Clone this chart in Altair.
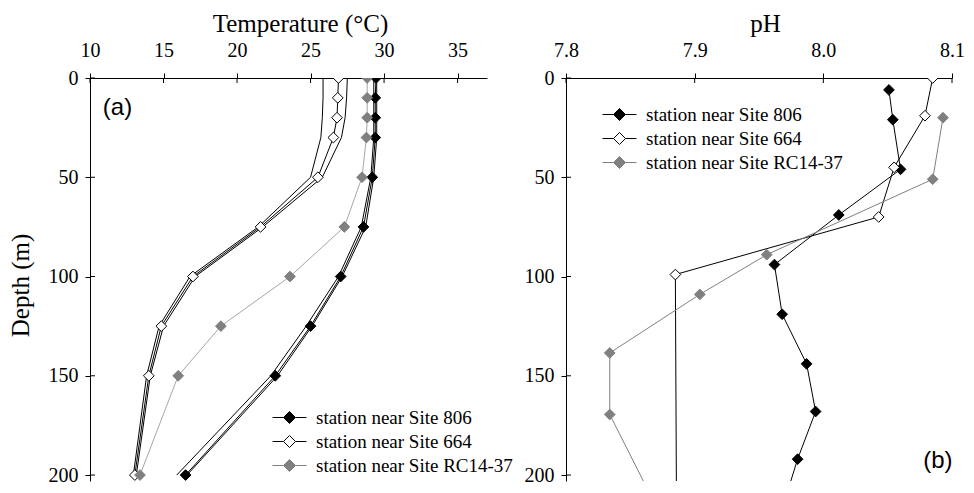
import altair as alt
import pandas as pd

SERIES = ["station near Site 806", "station near Site 664", "station near Site RC14-37"]

# ---------------- Temperature panel (a) ----------------
t_depth = [0, 10, 20, 30, 50, 75, 100, 125, 150, 200]
t_806 = [29.45, 29.4, 29.4, 29.4, 29.2, 28.6, 27.05, 25.0, 22.6, 16.5]
t_664 = [26.9, 26.85, 26.8, 26.55, 25.5, 21.6, 17.0, 14.85, 14.0, 13.05]
t_rc = [28.85, 28.85, 28.85, 28.8, 28.5, 27.3, 23.6, 18.9, 16.0, 13.4]
# unlabelled thin profiles next to the station profiles
t_806_a = [29.3, 29.3, 29.3, 29.3, 29.1, 28.45, 26.9, 24.7, 22.3, 15.9]
t_806_b = [29.5, 29.5, 29.5, 29.5, 29.3, 28.75, 27.15, 25.1, 22.75, 16.6]
t_664_a = [25.85, 25.85, 25.8, 25.7, 25.0, 21.45, 16.8, 14.7, 13.85, 12.95]
t_664_b = [27.5, 27.45, 27.35, 27.1, 25.8, 21.75, 17.15, 15.0, 14.1, 13.15]

# ---------------- pH panel (b) ----------------
ph_806_depth = [6, 21, 46, 69, 94, 119, 144, 168, 192, 217]
ph_806 = [8.051, 8.054, 8.060, 8.012, 7.962, 7.968, 7.987, 7.994, 7.980, 7.968]
ph_664_depth = [0, 19, 45, 70, 99, 300]
ph_664 = [8.085, 8.079, 8.055, 8.043, 7.885, 7.8865]
ph_rc_depth = [20, 51, 89, 109, 138.5, 169.5, 240]
ph_rc = [8.093, 8.085, 7.956, 7.904, 7.834, 7.834, 7.889]

t_ticks = [10, 15, 20, 25, 30, 35]
ph_ticks = [7.8, 7.9, 8.0, 8.1]
depth_ticks = [0, 50, 100, 150, 200]

SERIF = "Liberation Serif"
W, H = 862, 403
T_RANGE = [0, 397]
PH_RANGE = [476, 862]
YS = alt.Scale(domain=[0, 203], range=[0, H], nice=False, zero=False)

LEG_PATH = "M-2.83,0L-1,0M1,0L2.83,0M0,-1L1,0L0,1L-1,0Z"


def frame(pairs):
    rows = []
    for lid, grp, site, depths, vals, pts in pairs:
        for i, (d, v) in enumerate(zip(depths, vals)):
            rows.append({"line": lid, "grp": grp, "site": site, "depth": d,
                         "val": v, "ord": i, "pt": pts})
    return pd.DataFrame(rows)


t_df = frame([
    ("806a", "thin", SERIES[0], t_depth, t_806_a, False),
    ("806b", "thin", SERIES[0], t_depth, t_806_b, False),
    ("664a", "thin", SERIES[1], t_depth, t_664_a, False),
    ("664b", "thin", SERIES[1], t_depth, t_664_b, False),
    ("806", "black", SERIES[0], t_depth, t_806, True),
    ("664", "black", SERIES[1], t_depth, t_664, True),
    ("rc", "gray", SERIES[2], t_depth, t_rc, True),
])
ph_df = frame([
    ("806", "black", SERIES[0], ph_806_depth, ph_806, True),
    ("664", "black", SERIES[1], ph_664_depth, ph_664, True),
    ("rc", "gray", SERIES[2], ph_rc_depth, ph_rc, True),
])


def panel(df, xdom, xrange, xticks, xtitle, xfmt, title_x, ytitle,
          y_offset, gray_line, leg_x, leg_y, label_text, label_x, label_y):
    xs = alt.Scale(domain=xdom, range=xrange, nice=False, zero=False)
    xax = alt.Axis(orient="top", values=xticks, format=xfmt, title=xtitle,
                   grid=False, tickSize=5, labelPadding=13,
                   titleX=title_x, titleY=-47, titleBaseline="alphabetic",
                   titleAlign="center", titleAngle=0,
                   labelFont=SERIF, labelFontSize=20, titleFont=SERIF,
                   titleFontSize=25, titleFontWeight="normal",
                   labelColor="black", titleColor="black", domainColor="black",
                   tickColor="black", labelFlush=False, labelOverlap=False)
    yargs = dict(orient="left", values=depth_ticks, grid=False, tickSize=5,
                 labelPadding=7, labelFont=SERIF, labelFontSize=20,
                 labelColor="black", domainColor="black", tickColor="black",
                 offset=y_offset, labelOverlap=False)
    if ytitle is None:
        yax = alt.Axis(title=None, **yargs)
    else:
        yax = alt.Axis(title=ytitle, titleFont=SERIF, titleFontSize=25,
                       titleFontWeight="normal", titleColor="black",
                       titleAngle=270, titleBaseline="alphabetic",
                       titleAlign="center", titleX=-61.5, titleY=207,
                       **yargs)

    base = alt.Chart(df)
    lines = base.mark_line(strokeWidth=1, clip=True).encode(
        x=alt.X("val:Q", scale=xs, axis=xax),
        y=alt.Y("depth:Q", scale=YS, axis=yax),
        color=alt.Color("grp:N", scale=alt.Scale(
            domain=["thin", "black", "gray"],
            range=["black", "black", gray_line]), legend=None),
        detail="line:N",
        order="ord:Q",
    )
    leg = alt.Legend(title=None, orient="none", legendX=leg_x, legendY=leg_y,
                     symbolType=LEG_PATH, symbolSize=144, symbolStrokeWidth=1,
                     rowPadding=4, labelOffset=17, padding=0, labelLimit=400,
                     symbolOpacity=1, labelFont=SERIF, labelFontSize=19,
                     labelColor="black")
    pts = base.transform_filter("datum.pt").mark_point(
        shape="diamond", filled=True, size=115, opacity=1, strokeWidth=1,
        clip=True).encode(
        x=alt.X("val:Q", scale=xs),
        y=alt.Y("depth:Q", scale=YS),
        fill=alt.Fill("site:N", scale=alt.Scale(
            domain=SERIES, range=["black", "white", "#808080"]), legend=leg),
        stroke=alt.Stroke("site:N", scale=alt.Scale(
            domain=SERIES, range=["black", "black", "#808080"]), legend=leg),
    )
    # inward halves of the crossing tick marks
    xt = alt.Chart(pd.DataFrame({"t": xticks})).mark_rule(
        color="black", strokeWidth=1).encode(
        x=alt.X("t:Q", scale=xs), y=alt.value(0), y2=alt.value(5))
    yt = alt.Chart(pd.DataFrame({"d": depth_ticks})).mark_rule(
        color="black", strokeWidth=1).encode(
        y=alt.Y("d:Q", scale=YS), x=alt.value(-y_offset),
        x2=alt.value(-y_offset + 5))
    lab = alt.Chart(pd.DataFrame({"s": [label_text], "x": [label_x],
                                  "y": [label_y]})).mark_text(
        font="Liberation Sans", fontSize=24, color="black").encode(
        x=alt.X("x:Q", scale=xs), y=alt.Y("y:Q", scale=YS), text="s:N")
    return alt.layer(lines, pts, xt, yt, lab)


left = panel(t_df, [10, 37], T_RANGE, t_ticks, "Temperature (°C)", "d", 210,
             "Depth (m)", 0, "#a6a6a6", 190, 330, "(a)", 11.87, 15.2)
right = panel(ph_df, [7.8, 8.1], PH_RANGE, ph_ticks, "pH", ".1f", 675,
              None, -476, "#808080", 520, 27, "(b)", 8.089, 193)

chart = alt.layer(left, right).resolve_scale(
    x="independent", y="independent", color="independent",
    fill="independent", stroke="independent"
).resolve_axis(x="independent", y="independent").resolve_legend(
    color="independent", fill="independent", stroke="independent"
).properties(
    width=W, height=H,
    autosize=alt.AutoSizeParams(type="none"),
    padding={"left": 82, "top": 70, "right": 12, "bottom": 4}
).configure(background="white").configure_view(stroke=None).configure_legend(
    labelFont=SERIF, labelFontSize=19, labelColor="black"
)

chart.save("out.html", embed_options={"renderer": "svg", "actions": False})
